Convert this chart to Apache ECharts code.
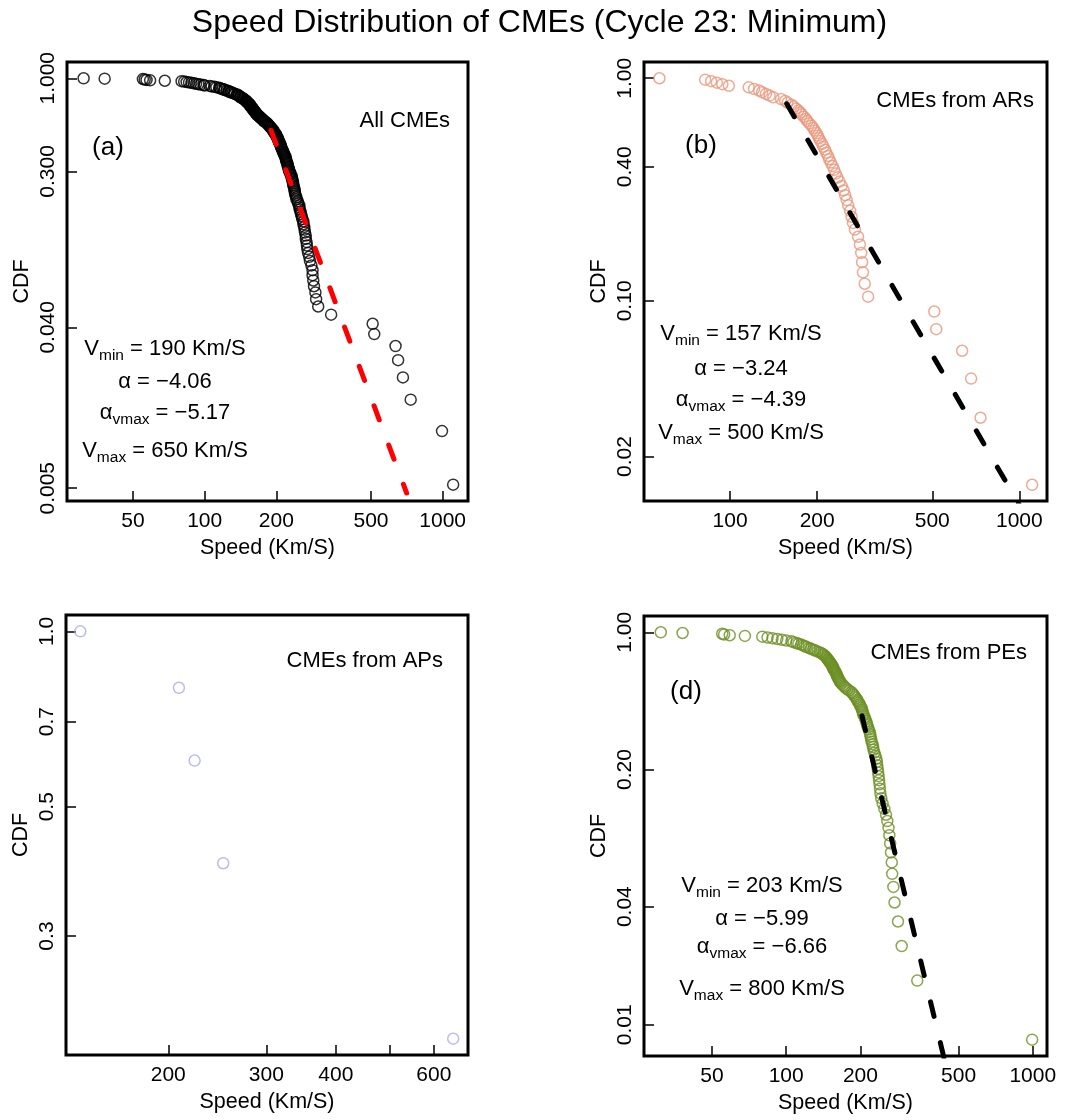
<!DOCTYPE html>
<html>
<head>
<meta charset="utf-8">
<title>Speed Distribution of CMEs</title>
<script src="https://cdn.jsdelivr.net/npm/echarts@6.0.0/dist/echarts.min.js"></script>
<style>
  html, body { margin: 0; padding: 0; background: #fff; }
  #chart { width: 1079px; height: 1120px; }
</style>
</head>
<body>
<div id="chart"></div>
<script>
// CME speeds (Km/S), slowest first
const arSpeeds = [57, 82, 86, 90, 94, 99, 116, 121, 126, 129,
  133, 137, 141, 150, 155, 158, 163, 166, 169, 172,
  175, 177, 180, 183, 185, 188, 191, 194, 196, 199,
  201, 203, 205, 208, 210, 213, 215, 218, 220, 223,
  226, 229, 232, 235, 239, 243, 247, 250, 253, 256,
  260, 263, 266, 270, 277, 281, 284, 286, 288, 292,
  300, 508, 516, 634, 681, 734, 1107];
const apSpeeds = [139, 209, 223, 251, 650];
const peSpeeds = [31, 38, 55, 56, 59, 68, 80, 84, 88, 92,
  96, 100, 105, 107, 110, 112, 115, 117, 119, 121,
  124, 126, 129, 131, 134, 137, 139, 141, 142, 144,
  145, 146, 147, 148, 149, 150, 151, 152, 153, 154,
  155, 155, 156, 157, 158, 159, 160, 160, 161, 162,
  163, 164, 165, 166, 168, 170, 172, 174, 177, 180,
  184, 186, 188, 190, 192, 194, 195, 197, 199, 200,
  202, 203, 204, 205, 206, 208, 209, 211, 212, 213,
  215, 216, 218, 219, 220, 221, 222, 224, 225, 226,
  228, 230, 232, 233, 234, 235, 236, 237, 238, 239,
  240, 241, 243, 246, 250, 254, 257, 260, 262, 264,
  266, 268, 269, 272, 275, 284, 294, 340, 994];

// power-law fits, end points [speed, CDF]
const fitAll = [[190, 0.51], [706, 0.0047]];
const fitAR = [[157, 0.768], [1000, 0.0121]];
const fitPE = [[203, 0.375], [440, 0.0065]];

// tick values
const xTicksA = [50, 100, 200, 500, 1000];
const yTicksA = [1, 0.3, 0.04, 0.005];
const xTicksB = [100, 200, 500, 1000];
const yTicksB = [1, 0.4, 0.1, 0.02];
const xTicksC = [200, 300, 400, 500, 600];
const xLabelsC = [200, 300, 400, 600];
const yTicksC = [1, 0.7, 0.5, 0.3];
const xTicksD = [50, 100, 200, 500, 1000];
const yTicksD = [1, 0.2, 0.04, 0.01];

const FONT = '"Liberation Sans", Arial, Helvetica, sans-serif';

// empirical P(V >= v)
function ccdf(speeds) {
  const s = speeds.slice().sort((a, b) => a - b);
  const n = s.length;
  return s.map((v, i) => [v, (n - i) / n]);
}

const allSpeeds = arSpeeds.concat(apSpeeds, peSpeeds);

const panels = [
  {grid: {left: 67, top: 62, width: 401, height: 439}, xMin: 26.4, xMax: 1278, yMin: 0.00424, yMax: 1.234,
    xTicks: xTicksA, xLabels: xTicksA, yTicks: yTicksA, digits: 3},
  {grid: {left: 644, top: 62, width: 403, height: 439}, xMin: 50.4, xMax: 1246, yMin: 0.01262, yMax: 1.183,
    xTicks: xTicksB, xLabels: xTicksB, yTicks: yTicksB, digits: 2},
  {grid: {left: 66, top: 615, width: 402, height: 440}, xMin: 131, xMax: 691, yMin: 0.1875, yMax: 1.0665,
    xTicks: xTicksC, xLabels: xLabelsC, yTicks: yTicksC, digits: 1},
  {grid: {left: 644, top: 616, width: 403, height: 440}, xMin: 26.5, xMax: 1142, yMin: 0.00694, yMax: 1.2106,
    xTicks: xTicksD, xLabels: xTicksD, yTicks: yTicksD, digits: 2}
];

const axisText = {color: '#000', fontSize: 21, fontFamily: FONT};

function points(i, data, color) {
  return {
    type: 'scatter', xAxisIndex: i, yAxisIndex: i, data: data,
    symbol: 'circle', symbolSize: 11, silent: true,
    itemStyle: {color: 'rgba(0,0,0,0)', borderColor: color, borderWidth: 1.5}
  };
}
function fitLine(i, data, color) {
  return {
    type: 'line', xAxisIndex: i, yAxisIndex: i, data: data, z: 5,
    showSymbol: false, silent: true,
    lineStyle: {color: color, width: 5, type: [15, 27], cap: 'round'}
  };
}
function txt(x, y, text, size, align) {
  return {type: 'text', x: x, y: y, z: 10,
    style: {text: text, fill: '#000', fontSize: size, fontFamily: FONT, align: align || 'center', verticalAlign: 'middle'}};
}
function rich(x, y, text) {
  return {type: 'text', x: x, y: y, z: 10,
    style: {text: text, fill: '#000', fontSize: 22, fontFamily: FONT, align: 'center', verticalAlign: 'middle',
      rich: {
        m: {fontSize: 22, fontFamily: FONT, lineHeight: 30, fill: '#000'},
        s: {fontSize: 15.5, fontFamily: FONT, lineHeight: 18, verticalAlign: 'bottom', fill: '#000'}
      }}};
}

let myChart = echarts.init(document.getElementById('chart'));
myChart.setOption({
  animation: false,
  backgroundColor: '#fff',
  title: {
    text: 'Speed Distribution of CMEs (Cycle 23: Minimum)',
    left: 'center', top: 2,
    textStyle: {fontSize: 32, fontWeight: 'normal', color: '#000', fontFamily: FONT}
  },
  grid: panels.map(p => Object.assign({show: true, borderColor: '#000', borderWidth: 3}, p.grid)),
  xAxis: panels.map((p, i) => ({
    type: 'log', logBase: 10, gridIndex: i, min: p.xMin, max: p.xMax,
    name: 'Speed (Km/S)', nameLocation: 'middle', nameGap: 36,
    nameTextStyle: {color: '#000', fontSize: 21.5, fontFamily: FONT},
    axisLine: {show: false},
    axisTick: {inside: true, length: 10, customValues: p.xTicks, lineStyle: {color: '#000', width: 1.5}},
    axisLabel: Object.assign({customValues: p.xLabels, margin: 10,
      formatter: v => String(Math.round(v))}, axisText),
    splitLine: {show: false}
  })),
  yAxis: panels.map((p, i) => ({
    type: 'log', logBase: 10, gridIndex: i, min: p.yMin, max: p.yMax,
    name: 'CDF', nameLocation: 'middle', nameGap: 34,
    nameTextStyle: {color: '#000', fontSize: 21.5, fontFamily: FONT},
    axisLine: {show: false},
    axisTick: {inside: true, length: 10, customValues: p.yTicks, lineStyle: {color: '#000', width: 1.5}},
    axisLabel: Object.assign({customValues: p.yTicks, margin: 8, rotate: 90,
      formatter: v => Number(v).toFixed(p.digits)}, axisText),
    splitLine: {show: false}
  })),
  series: [
    points(0, ccdf(allSpeeds), '#000000'),
    fitLine(0, fitAll, '#ff0000'),
    points(1, ccdf(arSpeeds), '#e9967a'),
    fitLine(1, fitAR, '#000000'),
    points(2, ccdf(apSpeeds), '#aaaaee'),
    points(3, ccdf(peSpeeds), '#6b8e23'),
    fitLine(3, fitPE, '#000000')
  ],
  graphic: [
    // (a)
    txt(450, 121, 'All CMEs', 22, 'right'),
    txt(108, 148, '(a)', 26),
    rich(165, 349, '{m|V}{s|min}{m| = 190 Km/S}'),
    rich(165, 382, '{m|α = −4.06}'),
    rich(165, 413, '{m|α}{s|vmax}{m| = −5.17}'),
    rich(165, 451, '{m|V}{s|max}{m| = 650 Km/S}'),
    // (b)
    txt(1034, 101, 'CMEs from ARs', 22, 'right'),
    txt(701, 146, '(b)', 26),
    rich(741, 334, '{m|V}{s|min}{m| = 157 Km/S}'),
    rich(741, 369, '{m|α = −3.24}'),
    rich(741, 400, '{m|α}{s|vmax}{m| = −4.39}'),
    rich(741, 433, '{m|V}{s|max}{m| = 500 Km/S}'),
    // (c)
    txt(443, 661, 'CMEs from APs', 22, 'right'),
    // (d)
    txt(1027, 653, 'CMEs from PEs', 22, 'right'),
    txt(686, 692, '(d)', 26),
    rich(762, 886, '{m|V}{s|min}{m| = 203 Km/S}'),
    rich(762, 919, '{m|α = −5.99}'),
    rich(762, 947, '{m|α}{s|vmax}{m| = −6.66}'),
    rich(762, 989, '{m|V}{s|max}{m| = 800 Km/S}')
  ]
});
</script>
</body>
</html>
